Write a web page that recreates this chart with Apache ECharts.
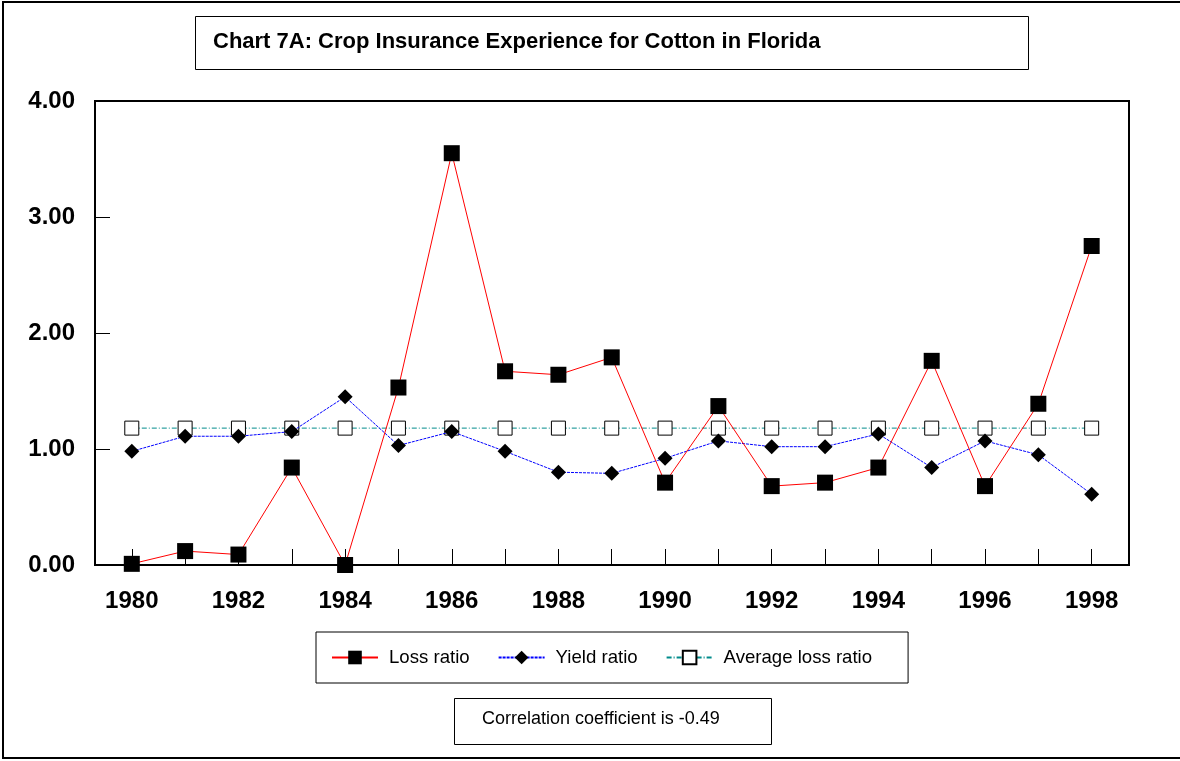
<!DOCTYPE html>
<html>
<head>
<meta charset="utf-8">
<style>
  html, body { margin: 0; padding: 0; background: #fff; }
  #chart { width: 1180px; height: 761px; }
</style>
<script src="https://cdn.jsdelivr.net/npm/echarts@6/dist/echarts.min.js"></script>
</head>
<body>
<div id="chart"></div>
<script>
const years = [1980, 1981, 1982, 1983, 1984, 1985, 1986, 1987, 1988, 1989,
  1990, 1991, 1992, 1993, 1994, 1995, 1996, 1997, 1998]
const yearLabels = [1980, 1982, 1984, 1986, 1988, 1990, 1992, 1994, 1996, 1998]
const lossRatio = [0.01, 0.12, 0.09, 0.84, 0.00, 1.53, 3.55, 1.67, 1.64, 1.79,
  0.71, 1.37, 0.68, 0.71, 0.84, 1.76, 0.68, 1.39, 2.75]
const yieldRatio = [0.98, 1.11, 1.11, 1.15, 1.45, 1.03, 1.15, 0.98, 0.80, 0.79,
  0.92, 1.07, 1.02, 1.02, 1.13, 0.84, 1.07, 0.95, 0.61]
const avgLossRatio = [1.18, 1.18, 1.18, 1.18, 1.18, 1.18, 1.18, 1.18, 1.18, 1.18,
  1.18, 1.18, 1.18, 1.18, 1.18, 1.18, 1.18, 1.18, 1.18]
const chartTitle = 'Chart 7A: Crop Insurance Experience for Cotton in Florida'
const noteText = 'Correlation coefficient is -0.49'

const pairs = (vals) => years.map((y, i) => [y, vals[i]])

const chart = echarts.init(document.getElementById('chart'))
const font = 'Arial, "Liberation Sans", sans-serif'

const option = {
  animation: false,
  textStyle: { fontFamily: font, color: '#000' },
  graphic: [
    {
      type: 'rect',
      shape: { x: 3, y: 2, width: 1180, height: 756 },
      style: { fill: 'none', stroke: '#000', lineWidth: 2 },
    },
    {
      type: 'rect',
      shape: { x: 195.5, y: 16.5, width: 833, height: 53 },
      style: { fill: '#fff', stroke: '#000', lineWidth: 1 },
    },
    {
      type: 'text',
      x: 213,
      y: 42,
      style: {
        text: chartTitle,
        font: 'bold 22px ' + font,
        fill: '#000',
        textVerticalAlign: 'middle',
      },
    },
    {
      type: 'rect',
      shape: { x: 454.5, y: 698.5, width: 317, height: 46 },
      style: { fill: '#fff', stroke: '#000', lineWidth: 1 },
    },
    {
      type: 'text',
      x: 482,
      y: 719,
      style: {
        text: noteText,
        font: '18px ' + font,
        fill: '#000',
        textVerticalAlign: 'middle',
      },
    },
  ],
  legend: {
    left: 316,
    top: 632,
    orient: 'horizontal',
    data: ['Loss ratio', 'Yield ratio', 'Average loss ratio'],
    borderColor: '#000',
    borderWidth: 1,
    backgroundColor: '#fff',
    padding: [16, 36, 16, 15],
    itemWidth: 46,
    itemHeight: 17,
    itemGap: 28,
    textStyle: { fontSize: 18.6, color: '#000', fontFamily: font, padding: [0, 0, 0, 6] },
  },
  grid: {
    left: 95,
    top: 101,
    width: 1034,
    height: 464,
    show: true,
    borderColor: '#000',
    borderWidth: 2,
    containLabel: false,
    outerBoundsMode: 'none',
  },
  xAxis: {
    type: 'value',
    min: 1979.31,
    max: 1998.7,
    splitLine: { show: false },
    axisLine: { show: true, lineStyle: { color: '#000', width: 2 } },
    axisTick: {
      show: true,
      inside: true,
      length: 16,
      customValues: years,
      lineStyle: { color: '#000', width: 1 },
    },
    axisLabel: {
      customValues: yearLabels,
      margin: 24,
      fontSize: 24,
      fontWeight: 'bold',
      color: '#000',
      fontFamily: font,
      formatter: (v) => String(v),
    },
  },
  yAxis: {
    type: 'value',
    min: 0,
    max: 4,
    interval: 1,
    splitLine: { show: false },
    axisLine: { show: true, lineStyle: { color: '#000', width: 2 } },
    axisTick: {
      show: true,
      inside: true,
      length: 15,
      lineStyle: { color: '#000', width: 1 },
    },
    axisLabel: {
      margin: 20,
      fontSize: 24,
      fontWeight: 'bold',
      color: '#000',
      fontFamily: font,
      formatter: (v) => v.toFixed(2),
    },
  },
  series: [
    {
      name: 'Average loss ratio',
      type: 'line',
      z: 2,
      symbol: 'rect',
      symbolSize: 14,
      lineStyle: { color: '#008b8b', width: 1, type: [5, 2, 1, 2] },
      itemStyle: { color: '#fff', borderColor: '#000', borderWidth: 1 },
      data: pairs(avgLossRatio),
    },
    {
      name: 'Yield ratio',
      type: 'line',
      z: 3,
      symbol: 'diamond',
      symbolSize: 15,
      lineStyle: { color: '#0000ff', width: 1, type: [3, 1] },
      itemStyle: { color: '#000' },
      data: pairs(yieldRatio),
    },
    {
      name: 'Loss ratio',
      type: 'line',
      z: 4,
      symbol: 'rect',
      symbolSize: 16,
      lineStyle: { color: '#ff0000', width: 1 },
      itemStyle: { color: '#000' },
      data: pairs(lossRatio),
    },
  ],
}

chart.setOption(option)
</script>
</body>
</html>
